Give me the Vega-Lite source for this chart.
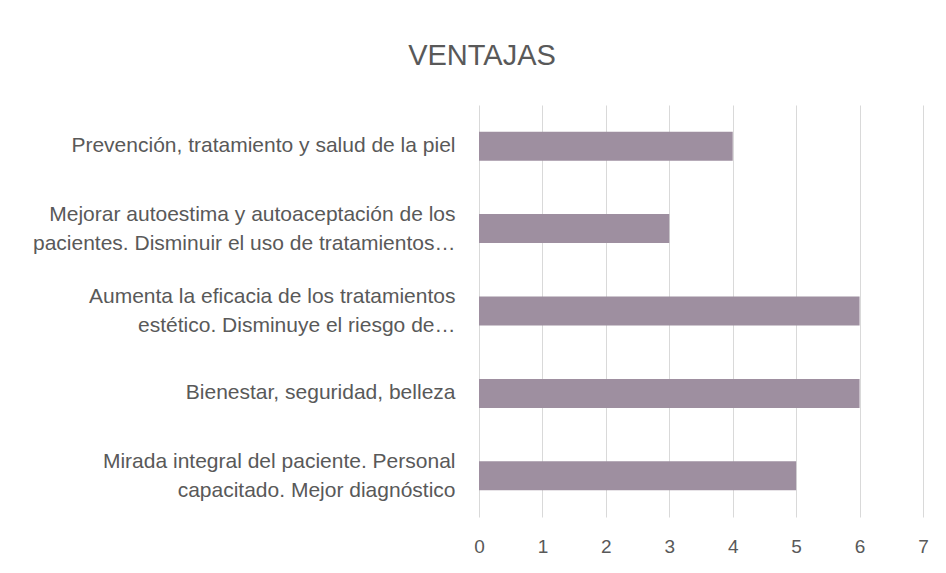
{
  "$schema": "https://vega.github.io/schema/vega-lite/v6.json",
  "width": 444,
  "height": 412,
  "autosize": {"type": "none"},
  "padding": {"left": 479, "top": 105, "right": 23, "bottom": 56},
  "background": "white",
  "title": {
    "text": "VENTAJAS",
    "frame": "group",
    "anchor": "start",
    "align": "center",
    "dx": 3,
    "baseline": "alphabetic",
    "offset": 11,
    "font": "Liberation Sans",
    "fontSize": 29,
    "fontWeight": "normal",
    "color": "#595959"
  },
  "data": {
    "values": [
      {"categoria": "Prevención, tratamiento y salud de la piel", "valor": 4},
      {"categoria": "Mejorar autoestima y autoaceptación de los\npacientes. Disminuir el uso de tratamientos…", "valor": 3},
      {"categoria": "Aumenta la eficacia de los tratamientos\nestético. Disminuye el riesgo de…", "valor": 6},
      {"categoria": "Bienestar, seguridad, belleza", "valor": 6},
      {"categoria": "Mirada integral del paciente. Personal\ncapacitado. Mejor diagnóstico", "valor": 5}
    ]
  },
  "mark": {"type": "bar", "color": "#9e8fa0"},
  "encoding": {
    "y": {
      "field": "categoria",
      "type": "nominal",
      "sort": null,
      "scale": {"paddingInner": 0.648, "paddingOuter": 0.324},
      "axis": {
        "title": null,
        "ticks": false,
        "domain": false,
        "grid": false,
        "labelExpr": "split(datum.label, '\\n')",
        "labelLimit": 0,
        "labelPadding": 24,
        "labelOffset": {"condition": {"test": "indexof(datum.label, '\\n') >= 0", "value": -14}, "value": 0},
        "labelFont": "Liberation Sans",
        "labelFontSize": 21,
        "labelLineHeight": 29,
        "labelColor": "#595959"
      }
    },
    "x": {
      "field": "valor",
      "type": "quantitative",
      "scale": {"domain": [0, 7], "nice": false},
      "axis": {
        "title": null,
        "values": [0, 1, 2, 3, 4, 5, 6, 7],
        "ticks": false,
        "domain": false,
        "grid": true,
        "gridColor": "#d9d9d9",
        "gridWidth": 1,
        "labelFlush": false,
        "labelPadding": 29,
        "labelBaseline": "middle",
        "labelFont": "Liberation Sans",
        "labelFontSize": 19,
        "labelColor": "#595959"
      }
    }
  },
  "config": {"view": {"stroke": null}}
}
